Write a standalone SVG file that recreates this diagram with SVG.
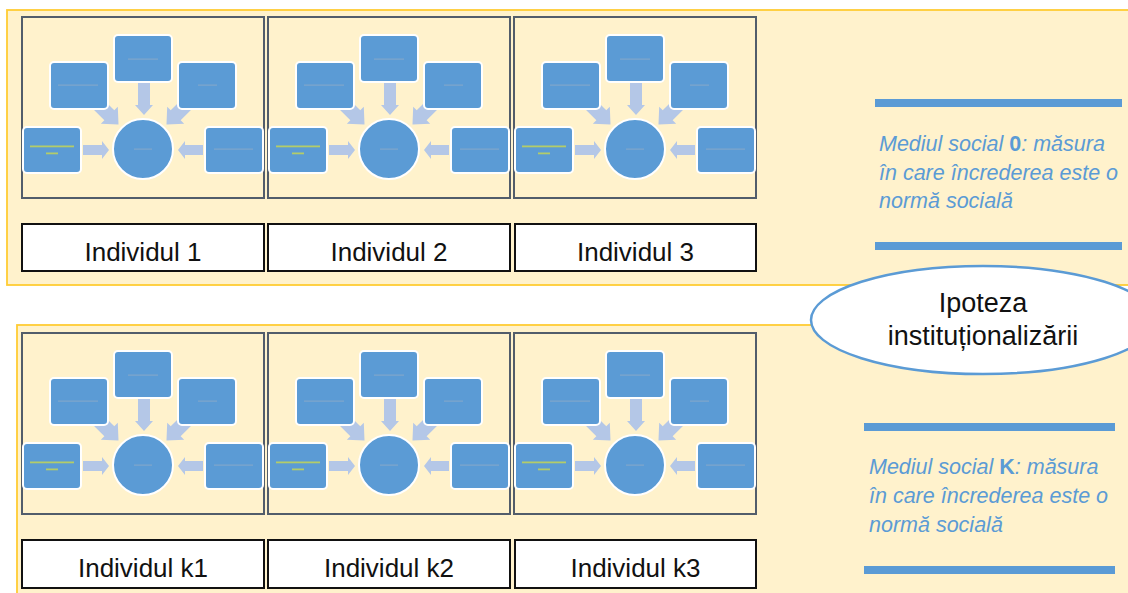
<svg xmlns="http://www.w3.org/2000/svg" xmlns:xlink="http://www.w3.org/1999/xlink" width="1128" height="593" viewBox="0 0 1128 593">
<style>
.panel{fill:#FFF2CC;stroke:#FFCC33;stroke-width:1.8}
.frame{fill:#FFF2CC;stroke:#525D6B;stroke-width:2}
.box{fill:#5B9BD5;stroke:#FFFFFF;stroke-width:2}
.arr{fill:#B4C7E7}
.tt{fill:#9FB0C2;opacity:0.55}
.ty{fill:#C9D84E;opacity:0.8}
.lbl{fill:#FFFFFF;stroke:#111111;stroke-width:2}
.lt{font-family:"Liberation Sans",Arial,sans-serif;font-size:26px;fill:#111111;text-anchor:middle}
.bar{fill:#5B9BD5}
.mt{font-family:"Liberation Sans",Arial,sans-serif;font-size:21.5px;font-style:italic;fill:#5B9BD5}
.b{font-weight:bold;font-style:normal}
.et{font-family:"Liberation Sans",Arial,sans-serif;font-size:27px;fill:#111111;text-anchor:middle}
</style>
<defs>
<polygon id="darr" points="0,-7 16,-7 16,-12 29,0 16,12 16,7 0,7"/>
<g id="mini">
<rect class="frame" x="0" y="0" width="242" height="181"/>
<g class="arr">
<polygon points="116,66 128,66 128,88 131,88 122,98 113,88 116,88"/>
<polygon points="61,128 80,128 80,124 87,133 80,142 80,138 61,138"/>
<polygon points="181,128 163,128 163,124 156,133 163,142 163,138 181,138"/>
<use xlink:href="#darr" transform="translate(76,87) rotate(45)"/>
<use xlink:href="#darr" transform="translate(165,87) rotate(135)"/>
</g>
<rect class="box" x="92" y="18" width="58" height="47" rx="4"/>
<rect class="box" x="28" y="45" width="58" height="47" rx="4"/>
<rect class="box" x="156" y="45" width="58" height="47" rx="4"/>
<rect class="box" x="1" y="110" width="58" height="46" rx="4"/>
<rect class="box" x="183" y="110" width="58" height="46" rx="4"/>
<circle class="box" cx="121" cy="132" r="30"/>
<rect class="tt" x="106" y="41.5" width="30" height="1.2"/>
<rect class="tt" x="36" y="67.5" width="40" height="1.2"/>
<rect class="tt" x="176" y="67.5" width="19" height="1.2"/>
<rect class="tt" x="112" y="131.5" width="18" height="1.2"/>
<rect class="tt" x="192" y="131.5" width="39" height="1.2"/>
<rect class="ty" x="8" y="128.5" width="44" height="1.8"/>
<rect class="ty" x="24" y="135.5" width="12" height="1.8"/>
</g>
</defs>
<rect x="0" y="0" width="1128" height="593" fill="#FFFFFF"/>
<g id="panel-top"><rect class="panel" x="7" y="10" width="1130" height="275"/></g>
<g id="panel-bottom"><rect class="panel" x="17" y="325" width="1120" height="280"/></g>

<g id="individ-1"><use xlink:href="#mini" x="22" y="17"/><rect class="lbl" x="22" y="224" width="242" height="47"/><text class="lt" x="143" y="261">Individul 1</text></g>
<g id="individ-2"><use xlink:href="#mini" x="268" y="17"/><rect class="lbl" x="268" y="224" width="242" height="47"/><text class="lt" x="389" y="261">Individul 2</text></g>
<g id="individ-3"><use xlink:href="#mini" x="514" y="17"/><rect class="lbl" x="515" y="224" width="241" height="47"/><text class="lt" x="635.5" y="261">Individul 3</text></g>

<g id="individ-k1"><use xlink:href="#mini" x="22" y="333"/><rect class="lbl" x="22" y="540" width="242" height="48"/><text class="lt" x="143" y="577">Individul k1</text></g>
<g id="individ-k2"><use xlink:href="#mini" x="268" y="333"/><rect class="lbl" x="268" y="540" width="242" height="48"/><text class="lt" x="389" y="577">Individul k2</text></g>
<g id="individ-k3"><use xlink:href="#mini" x="514" y="333"/><rect class="lbl" x="515" y="540" width="241" height="48"/><text class="lt" x="635.5" y="577">Individul k3</text></g>

<g id="mediul-0">
<rect class="bar" x="875" y="99" width="247" height="8"/>
<text class="mt" x="879" y="151">Mediul social <tspan class="b">0</tspan>: măsura</text>
<text class="mt" x="879" y="180">în care încrederea este o</text>
<text class="mt" x="879" y="208">normă socială</text>
<rect class="bar" x="875" y="242" width="247" height="8"/>
</g>

<g id="mediul-k">
<rect class="bar" x="864" y="423" width="251" height="8"/>
<text class="mt" x="869" y="474">Mediul social <tspan class="b">K</tspan>: măsura</text>
<text class="mt" x="869" y="503">în care încrederea este o</text>
<text class="mt" x="869" y="532">normă socială</text>
<rect class="bar" x="864" y="566" width="251" height="8"/>
</g>

<g id="ipoteza">
<ellipse cx="983" cy="320" rx="172" ry="54" fill="#FFFFFF" stroke="#5B9BD5" stroke-width="2.5"/>
<text class="et" x="983" y="312">Ipoteza</text>
<text class="et" x="983" y="345">instituționalizării</text>
</g>
<g id="connectors"/>
</svg>
